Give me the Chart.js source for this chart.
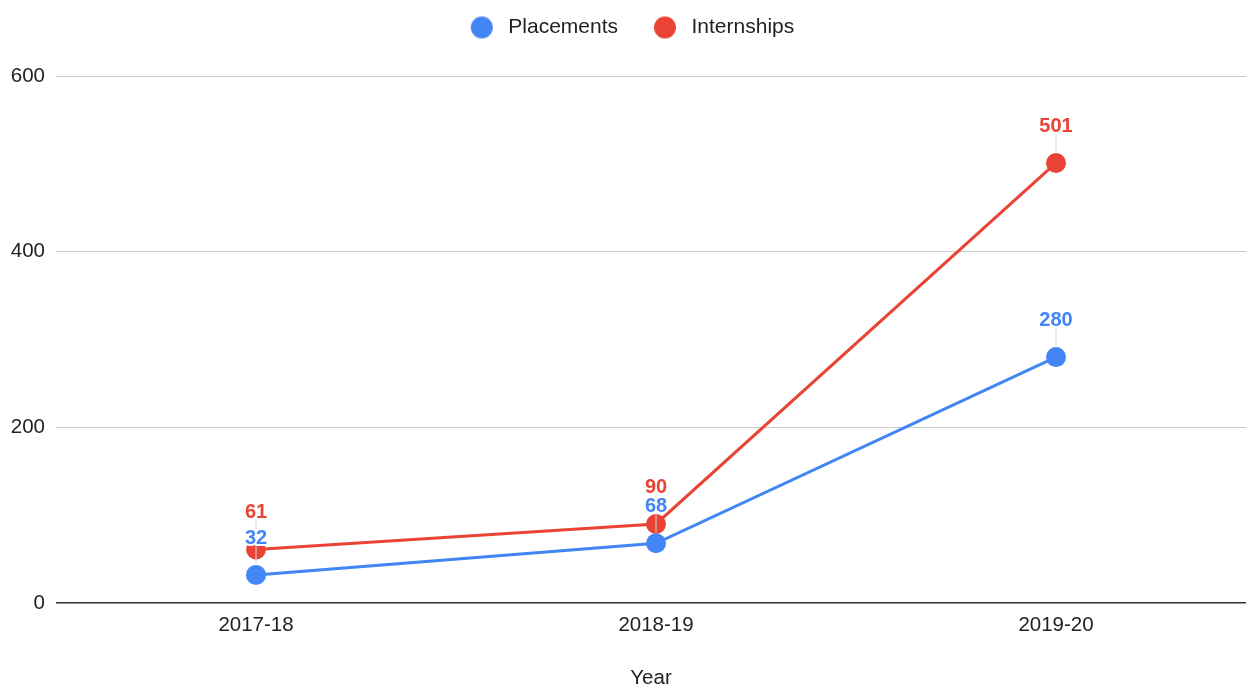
<!DOCTYPE html>
<html>
<head>
<meta charset="utf-8">
<title>Placements and Internships</title>
<script src="https://cdn.jsdelivr.net/npm/chart.js@4/dist/chart.umd.min.js"></script>
<style>
  html, body { margin: 0; padding: 0; background: #fff; overflow: hidden; }
  #wrap { width: 1246px; height: 688px; position: relative; }
  #yearChart { display: block; }
</style>
</head>
<body>
<div id="wrap"><canvas id="yearChart"></canvas></div>
<script>
// data
const years = ['2017-18', '2018-19', '2019-20']
const placements = [32, 68, 280]
const internships = [61, 90, 501]
const yTicks = [0, 200, 400, 600]

const BLUE = '#4285F4'
const RED = '#EA4335'
const FONT = "'Liberation Sans', Arial, sans-serif"

// round legend markers as little canvases so the box can be wider than the dot
function makeDot(color) {
  const c = document.createElement('canvas')
  c.width = 24
  c.height = 24
  const g = c.getContext('2d')
  g.fillStyle = color
  g.beginPath()
  g.arc(12, 12, 11, 0, Math.PI * 2)
  g.fill()
  return c
}
const legendDots = [makeDot(BLUE), makeDot(RED)]

// fixed legend band height, then nudge the legend up and to the right
const legendBand = {
  id: 'legendBand',
  afterInit(chart) {
    const legend = chart.legend
    if (!legend) return
    const fit = legend.fit
    legend.fit = function() {
      fit.call(this)
      this.height = 70
    }
  },
  afterLayout(chart) {
    const legend = chart.legend
    if (!legend) return
    legend.top -= 20
    legend.bottom -= 20
    legend.left += 7
    legend.right += 7
  }
}

// labels above every point, with a thin grey leader line
const pointLabels = {
  id: 'pointLabels',
  afterDatasetsDraw(chart) {
    const ctx = chart.ctx
    ctx.save()
    // leaders first
    chart.data.datasets.forEach((ds, i) => {
      chart.getDatasetMeta(i).data.forEach(pt => {
        ctx.strokeStyle = '#d9d9d9'
        ctx.lineWidth = 1
        ctx.beginPath()
        ctx.moveTo(pt.x, pt.y - 29)
        ctx.lineTo(pt.x, pt.y - 11)
        ctx.stroke()
      })
    })
    ctx.font = 'bold 20px ' + FONT
    ctx.textAlign = 'center'
    ctx.textBaseline = 'alphabetic'
    ctx.lineJoin = 'round'
    for (let i = chart.data.datasets.length - 1; i >= 0; i--) {
      const ds = chart.data.datasets[i]
      chart.getDatasetMeta(i).data.forEach((pt, j) => {
        const txt = String(ds.data[j].y)
        ctx.strokeStyle = '#fff'
        ctx.lineWidth = 4
        ctx.strokeText(txt, pt.x, pt.y - 31)
        ctx.fillStyle = ds.borderColor
        ctx.fillText(txt, pt.x, pt.y - 31)
      })
    }
    ctx.restore()
  }
}

const toPoints = vals => vals.map((v, i) => ({ x: i, y: v }))

new Chart(document.getElementById('yearChart'), {
  type: 'line',
  data: {
    datasets: [
      {
        label: 'Placements',
        data: toPoints(placements),
        borderColor: BLUE,
        backgroundColor: BLUE,
        borderWidth: 3,
        pointRadius: 10,
        pointHoverRadius: 10,
        pointBorderWidth: 0,
        tension: 0
      },
      {
        label: 'Internships',
        data: toPoints(internships),
        borderColor: RED,
        backgroundColor: RED,
        borderWidth: 3,
        pointRadius: 10,
        pointHoverRadius: 10,
        pointBorderWidth: 0,
        tension: 0
      }
    ]
  },
  plugins: [legendBand, pointLabels],
  options: {
    responsive: true,
    maintainAspectRatio: false,
    animation: false,
    layout: { autoPadding: false, padding: { top: 6, right: 0, left: 0, bottom: 0 } },
    plugins: {
      tooltip: { enabled: false },
      legend: {
        position: 'top',
        labels: {
          usePointStyle: true,
          pointStyleWidth: 32,
          boxHeight: 15,
          padding: 31,
          color: '#222',
          font: { family: FONT, size: 21 },
          generateLabels: chart =>
            Chart.defaults.plugins.legend.labels.generateLabels(chart)
              .map((item, i) => Object.assign(item, { pointStyle: legendDots[i] }))
        }
      }
    },
    scales: {
      x: {
        type: 'linear',
        min: -0.5,
        max: 2.475,
        afterBuildTicks: axis => { axis.ticks = years.map((_, i) => ({ value: i })) },
        afterFit: axis => { axis.height = 85 },
        grid: { display: false, drawTicks: false },
        border: { display: false },
        ticks: {
          padding: 10,
          color: '#222',
          font: { family: FONT, size: 20.5 },
          callback: v => years[v]
        },
        title: {
          display: true,
          text: 'Year',
          color: '#222',
          font: { family: FONT, size: 20.5 },
          padding: { top: 0, bottom: -3 }
        }
      },
      y: {
        min: 0,
        max: 600,
        afterBuildTicks: axis => { axis.ticks = yTicks.map(v => ({ value: v })) },
        afterFit: axis => { axis.width = 56 },
        grid: {
          drawTicks: false,
          color: c => c.tick.value === 0 ? '#333' : '#ccc',
          lineWidth: c => c.tick.value === 0 ? 1.5 : 1
        },
        border: { display: false },
        ticks: {
          padding: 11,
          color: '#222',
          font: { family: FONT, size: 20.5 }
        }
      }
    }
  }
})
</script>
</body>
</html>
